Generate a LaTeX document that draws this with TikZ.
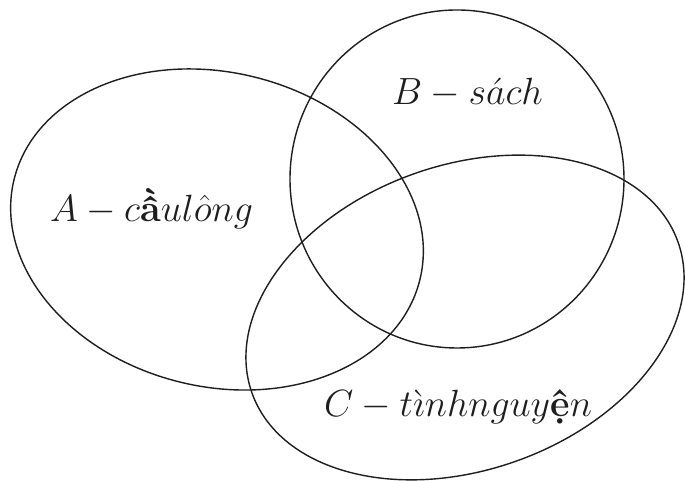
\documentclass[tikz,border=0pt]{standalone}
\usepackage{amsmath,amssymb}
\usepackage{fontspec}
\usepackage{tikz}
\usetikzlibrary{positioning}
\definecolor{ink}{RGB}{30,30,30}
\tikzset{
  setline/.style={line width=0.8pt,draw=ink},
  setlbl/.style={font=\huge,scale=1.04,transform shape,anchor=base,inner sep=0pt,text=ink},
}
\newcommand{\vn}[1]{\text{\bfseries #1}}

\begin{document}
\begin{tikzpicture}
\useasboundingbox (0,0) rectangle (13.7,9.62);
% the three sets
\draw[setline,rotate around={-14:(4.34,5.03)}] (4.34,5.03) ellipse (4.18cm and 3.14cm);
\draw[setline] (9.14,6.04) ellipse (3.34cm and 3.38cm);
\draw[setline,rotate around={19.5:(9.30,3.27)}] (9.30,3.27) ellipse (4.52cm and 3.05cm);
% labels
\node[setlbl] (lblA) at (3.03,5.18) {$A - c\vn{ầ}ul\hat{o}ng$};
\node[setlbl] (lblB) at (9.35,7.52) {$B - s\acute{a}ch$};
\node[setlbl] (lblC) at (9.16,1.28) {$C - t\grave{\imath}nhnguy\vn{ệ}n$};
\end{tikzpicture}
\end{document}
